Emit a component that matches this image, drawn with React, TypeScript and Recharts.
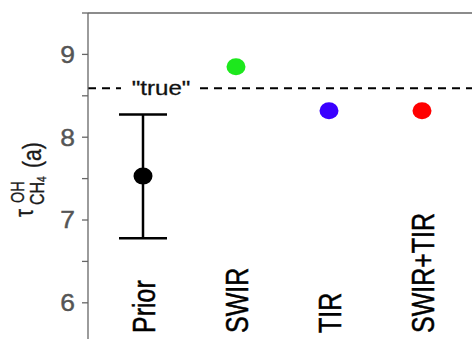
import React from 'react';
import { ScatterChart, Scatter, XAxis, YAxis, ReferenceLine, ErrorBar } from 'recharts';

const categories = ['Prior', 'SWIR', 'TIR', 'SWIR+TIR'];
const positions = [1, 2, 3, 4];
const values = [7.53, 8.85, 8.32, 8.32];
const colors = ['#000000', '#1de81d', '#3a00ff', '#ff0000'];
const priorErrorLow = 0.75;
const priorErrorHigh = 0.745;
const trueValue = 8.59;
const yTicks = [6, 6.5, 7, 7.5, 8, 8.5, 9, 9.5];
const yLabels = [6, 7, 8, 9];

const FONT = '"Liberation Sans", Arial, Helvetica, sans-serif';

const points = categories.map((name, i) => ({ x: positions[i], y: values[i], name, color: colors[i] }));
const priorData = [{ ...points[0], err: [priorErrorLow, priorErrorHigh] }];
const otherData = points.slice(1);

const YTick = (props: any) => {
  const { x, y, payload } = props;
  if (!yLabels.includes(payload.value)) return <g />;
  return (
    <g transform={`translate(${x}, ${y}) scale(1.15,1)`}>
      <text x={0} y={0} dy="0.36em" textAnchor="end" fontSize={23} fill="#555" stroke="#555" strokeWidth={0.4} fontFamily={FONT}>
        {payload.value}
      </text>
    </g>
  );
};

const CatTick = (props: any) => {
  const { x, y, payload } = props;
  const i = positions.indexOf(payload.value);
  return (
    <g transform={`translate(${x + 11.5}, ${y - 6}) rotate(-90) scale(1, 1.25)`}>
      <text x={0} y={0} textAnchor="start" fontSize={25} fill="#000" stroke="#000" strokeWidth={0.4} fontFamily={FONT}>
        {categories[i]}
      </text>
    </g>
  );
};

const RotText = ({ bx, by, size, children }: any) => (
  <g transform={`translate(${bx}, ${by}) rotate(-90) scale(1, 1.25)`}>
    <text x={0} y={0} textAnchor="start" fontSize={size} fill="#1a1a1a" stroke="#1a1a1a" strokeWidth={0.3} fontFamily={FONT}>
      {children}
    </text>
  </g>
);

const YTitle = (props: any) => {
  const vb = props.viewBox || { x: 0, y: 13 };
  const ox = vb.x;
  const oy = vb.y - 13;
  return (
    <g>
      <RotText bx={ox + 33} by={oy + 217} size={20}>τ</RotText>
      <RotText bx={ox + 23.5} by={oy + 203} size={14.5}>OH</RotText>
      <RotText bx={ox + 44} by={oy + 205} size={16}>CH</RotText>
      <RotText bx={ox + 45.5} by={oy + 182} size={10}>4</RotText>
      <RotText bx={ox + 41} by={oy + 168} size={21}>(a)</RotText>
    </g>
  );
};

const TrueLabel = (props: any) => {
  const vb = props.viewBox || { x: 88, y: 88 };
  const cx = vb.x + 73;
  const cy = vb.y;
  return (
    <g>
      <rect x={cx - 40} y={cy - 5} width={79} height={10} fill="#fff" />
      <g transform={`translate(${cx}, ${cy + 7}) scale(1.15,1)`}>
        <text x={0} y={0} textAnchor="middle" fontSize={21} fill="#111" stroke="#111" strokeWidth={0.3} fontFamily={FONT}>
          "true"
        </text>
      </g>
    </g>
  );
};

const Dot = (props: any) => (
  <ellipse cx={props.cx} cy={props.cy} rx={9.5} ry={8.5} fill={props.payload.color} />
);

export default function App() {
  return (
    <div style={{ position: 'absolute', left: 0, top: 0, width: 472, height: 340, background: '#fff' }}>
      <ScatterChart width={472} height={340} margin={{ top: 13, right: 0, bottom: 0, left: 0 }}>
        <XAxis
          type="number"
          dataKey="x"
          domain={[0.4086, 4.5376]}
          allowDataOverflow
          ticks={positions}
          tick={<CatTick />}
          tickLine={false}
          axisLine={false}
          tickSize={0}
          tickMargin={0}
          height={1}
          interval={0}
        />
        <YAxis
          type="number"
          dataKey="y"
          domain={[5.563, 9.5]}
          allowDataOverflow
          ticks={yTicks}
          interval={0}
          width={88}
          tickSize={6}
          tickMargin={7}
          tick={<YTick />}
          tickLine={{ stroke: '#666', strokeWidth: 1.3 }}
          axisLine={{ stroke: '#666', strokeWidth: 1.3 }}
          label={<YTitle />}
        />
        <ReferenceLine y={9.5} stroke="#666" strokeWidth={1.3} />
        <ReferenceLine
          y={trueValue}
          stroke="#000"
          strokeWidth={2}
          strokeDasharray="8 6"
          label={<TrueLabel />}
        />
        <Scatter data={priorData} shape={<Dot />} isAnimationActive={false}>
          <ErrorBar dataKey="err" direction="y" width={24} stroke="#000" strokeWidth={2.5} isAnimationActive={false} />
        </Scatter>
        <Scatter data={otherData} shape={<Dot />} isAnimationActive={false} />
      </ScatterChart>
    </div>
  );
}
